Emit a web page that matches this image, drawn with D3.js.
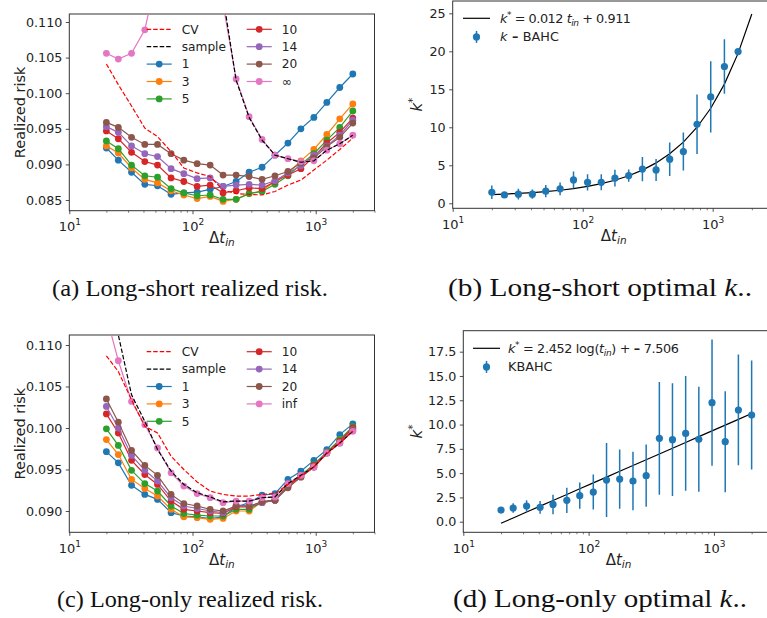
<!DOCTYPE html>
<html>
<head>
<meta charset="utf-8">
<script src="https://cdn.jsdelivr.net/npm/d3@7"></script>
<style>
  body { margin: 0; background: #fff; }
  svg { display: block; }
</style>
</head>
<body>
<div id="container"></div>
<script>
const WIDTH = 767,
  HEIGHT = 618;

// x values (input window length) shared by every panel
const tIn = [20, 25, 32, 41, 52, 67, 85, 109, 139, 177, 226, 288, 367, 467, 595, 758, 966, 1231, 1568, 2000];
const xDomain = [10, 3000];
const xMajor = [10, 100, 1000];
const xExp = ["1", "2", "3"];
const xMinor = [20, 30, 40, 50, 60, 70, 80, 90, 200, 300, 400, 500, 600, 700, 800, 900, 2000, 3000];

const kColors = ["#1f77b4", "#ff7f0e", "#2ca02c", "#d62728", "#9467bd", "#8c564b", "#e377c2"];

// (a) long-short realized risk
const lsLabels = ["1", "3", "5", "10", "14", "20", "∞"];
const lsCV = [0.1041, 0.1012, 0.0982, 0.0951, 0.0939, 0.0918, 0.0895, 0.0888, 0.0883, 0.0864, 0.0859, 0.0858, 0.0857, 0.0862, 0.0871, 0.0878, 0.0892, 0.0906, 0.0921, 0.0937];
const lsSample = [0.160, 0.155, 0.150, 0.145, 0.140, 0.135, 0.130, 0.125, 0.120, 0.1135, 0.1018, 0.0966, 0.0934, 0.0913, 0.0908, 0.0903, 0.0905, 0.0920, 0.0929, 0.0941];
const lsK1 = [0.0923, 0.0906, 0.0889, 0.0872, 0.0870, 0.0858, 0.0860, 0.0861, 0.0865, 0.0869, 0.0876, 0.0889, 0.0896, 0.0913, 0.0930, 0.0950, 0.0966, 0.0987, 0.1008, 0.1027];
const lsK3 = [0.0926, 0.0916, 0.0895, 0.0879, 0.0874, 0.0863, 0.0857, 0.0852, 0.0855, 0.0848, 0.0851, 0.0859, 0.0863, 0.0876, 0.0888, 0.0905, 0.0921, 0.0942, 0.0964, 0.0985];
const lsK5 = [0.0933, 0.0922, 0.0899, 0.0884, 0.0882, 0.0866, 0.0860, 0.0856, 0.0857, 0.0851, 0.0851, 0.0859, 0.0862, 0.0872, 0.0884, 0.0900, 0.0915, 0.0934, 0.0952, 0.0975];
const lsK10 = [0.0947, 0.0936, 0.0917, 0.0904, 0.0899, 0.0881, 0.0876, 0.0869, 0.0871, 0.0860, 0.0863, 0.0867, 0.0866, 0.0876, 0.0885, 0.0894, 0.0911, 0.0930, 0.0945, 0.0965];
const lsK14 = [0.0953, 0.0945, 0.0926, 0.0915, 0.0911, 0.0894, 0.0887, 0.0880, 0.0881, 0.0869, 0.0871, 0.0872, 0.0871, 0.0877, 0.0888, 0.0898, 0.0913, 0.0926, 0.0941, 0.0962];
const lsK20 = [0.0959, 0.0952, 0.0938, 0.0928, 0.0928, 0.0915, 0.0906, 0.0901, 0.0899, 0.0885, 0.0885, 0.0883, 0.0879, 0.0884, 0.0890, 0.0902, 0.0909, 0.0925, 0.0938, 0.0958];
const lsKinf = [0.1056, 0.1048, 0.1056, 0.1089, 0.117, 0.122, 0.125, 0.124, 0.120, 0.1125, 0.1020, 0.0967, 0.0935, 0.0913, 0.0908, 0.0904, 0.0905, 0.0920, 0.0929, 0.0941];

// (b) long-short optimal k
const lsKOpt = [1.45, 1.1, 1.2, 1.2, 1.6, 1.9, 3.07, 2.76, 2.76, 3.3, 3.64, 4.5, 4.39, 5.8, 6.8, 10.4, 14.0, 18.0, 19.96];
const lsKErr = [0.9, 0.3, 0.7, 0.6, 0.8, 0.85, 1.1, 1.07, 1.05, 1.1, 0.8, 1.6, 1.45, 2.2, 2.5, 3.9, 4.7, 3.6, 0];
const lsFit = { slope: 0.012, intercept: 0.911 };

// (c) long-only realized risk
const loLabels = ["1", "3", "5", "10", "14", "20", "inf"];
const loCV = [0.1087, 0.1068, 0.1034, 0.1002, 0.0994, 0.0966, 0.0950, 0.0935, 0.0924, 0.0920, 0.0918, 0.0918, 0.0920, 0.0921, 0.0932, 0.0942, 0.0953, 0.0969, 0.0982, 0.0996];
const loSample = [0.118, 0.1112, 0.1040, 0.1008, 0.0974, 0.0948, 0.0932, 0.0922, 0.0917, 0.0911, 0.0912, 0.0912, 0.0916, 0.0917, 0.0933, 0.0943, 0.0953, 0.0970, 0.0982, 0.0996];
const loK1 = [0.09715, 0.0958, 0.0931, 0.0920, 0.0914, 0.0898, 0.0894, 0.0893, 0.0891, 0.0893, 0.0905, 0.0910, 0.0919, 0.0921, 0.0938, 0.0948, 0.0961, 0.0974, 0.0992, 0.1005];
const loK3 = [0.0986, 0.0968, 0.0938, 0.0927, 0.0918, 0.0902, 0.0893, 0.0892, 0.0890, 0.0891, 0.0900, 0.0900, 0.0911, 0.0913, 0.0931, 0.0943, 0.0955, 0.0971, 0.0986, 0.1000];
const loK5 = [0.0999, 0.0979, 0.0949, 0.0933, 0.0924, 0.0906, 0.0897, 0.0895, 0.0894, 0.0894, 0.0902, 0.0902, 0.0911, 0.0913, 0.0931, 0.0943, 0.0956, 0.0971, 0.0986, 0.1002];
const loK10 = [0.1017, 0.0994, 0.0961, 0.0944, 0.0932, 0.0912, 0.0902, 0.0900, 0.0898, 0.0897, 0.0905, 0.0905, 0.0910, 0.0913, 0.0930, 0.0941, 0.0955, 0.0970, 0.0984, 0.1000];
const loK14 = [0.1026, 0.1000, 0.0967, 0.0949, 0.0936, 0.0916, 0.0906, 0.0903, 0.0900, 0.0898, 0.0907, 0.0906, 0.0910, 0.0913, 0.0929, 0.0941, 0.0953, 0.0970, 0.0982, 0.0998];
const loK20 = [0.1035, 0.1007, 0.0973, 0.0955, 0.0943, 0.0920, 0.0909, 0.0906, 0.0902, 0.0900, 0.0906, 0.0906, 0.0911, 0.0913, 0.0928, 0.0941, 0.0953, 0.0970, 0.0982, 0.0997];
const loKinf = [0.1135, 0.1081, 0.1032, 0.1004, 0.0976, 0.0946, 0.0930, 0.0921, 0.0916, 0.0910, 0.0912, 0.0912, 0.0916, 0.0917, 0.0933, 0.0943, 0.0953, 0.0970, 0.0982, 0.0996];

// (d) long-only optimal k
const loKOpt = [1.2, 1.41, 1.61, 1.48, 1.78, 2.2, 2.68, 3.05, 4.29, 4.39, 4.19, 4.74, 8.58, 8.44, 9.09, 8.48, 12.25, 8.24, 11.5, 10.98];
const loKErr = [0.3, 0.5, 0.6, 0.65, 1.0, 1.3, 1.35, 1.8, 3.8, 3.05, 3.0, 3.2, 5.8, 5.8, 5.9, 5.4, 6.5, 5.2, 5.7, 5.6];
const loFit = { slope: 2.452, intercept: -7.506 };

const riskTicks = {
  a: [0.085, 0.090, 0.095, 0.100, 0.105, 0.110],
  c: [0.090, 0.095, 0.100, 0.105, 0.110]
};

const FONT = "DejaVu Sans";

const svg = d3.select("#container")
  .append("svg")
  .attr("width", WIDTH)
  .attr("height", HEIGHT)
  .style("font-family", FONT);

let clipId = 0;

function makeAxes(box, yDomain, yTicks, yFormat) {
  const x = d3.scaleLog().domain(xDomain).range([box.left, box.right]);
  const y = d3.scaleLinear().domain(yDomain).range([box.bottom, box.top]);

  const id = "clip" + (clipId++);
  svg.append("clipPath").attr("id", id)
    .append("rect")
    .attr("x", box.left).attr("y", box.top)
    .attr("width", box.right - box.left).attr("height", box.bottom - box.top);

  // minor x ticks
  svg.append("g")
    .attr("transform", `translate(0,${box.bottom})`)
    .call(d3.axisBottom(x).tickValues(xMinor).tickSize(2).tickFormat(""))
    .call(g => g.select(".domain").remove())
    .selectAll("line").attr("stroke", "#222").attr("stroke-width", 0.6);

  // major x ticks with 10^n labels
  const gx = svg.append("g")
    .attr("transform", `translate(0,${box.bottom})`)
    .call(d3.axisBottom(x).tickValues(xMajor).tickSize(3.5).tickPadding(4).tickFormat(""));
  gx.select(".domain").remove();
  gx.selectAll("line").attr("stroke", "#222").attr("stroke-width", 0.8);
  gx.selectAll(".tick text")
    .attr("font-size", 13).attr("font-family", FONT).attr("fill", "#222")
    .attr("dy", "1em")
    .each(function (d, i) {
      const t = d3.select(this);
      t.append("tspan").text("10");
      t.append("tspan").attr("font-size", 9).attr("dy", -6).text(xExp[i]);
    });

  const gy = svg.append("g")
    .attr("transform", `translate(${box.left},0)`)
    .call(d3.axisLeft(y).tickValues(yTicks).tickSize(3.5).tickPadding(3.5).tickFormat(yFormat));
  gy.select(".domain").remove();
  gy.selectAll("line").attr("stroke", "#222").attr("stroke-width", 0.8);
  gy.selectAll("text").attr("font-size", 12.7).attr("font-family", FONT).attr("fill", "#222");

  // frame
  svg.append("rect")
    .attr("x", box.left).attr("y", box.top)
    .attr("width", box.right - box.left).attr("height", box.bottom - box.top)
    .attr("fill", "none").attr("stroke", "#333").attr("stroke-width", 1);

  // x label: Δt_in
  const xl = svg.append("text")
    .attr("x", (box.left + box.right) / 2).attr("y", box.bottom + 32.5)
    .attr("text-anchor", "middle").attr("font-size", 15).attr("fill", "#222");
  xl.append("tspan").text("Δ");
  xl.append("tspan").attr("font-style", "italic").text("t");
  xl.append("tspan").attr("font-style", "italic").attr("font-size", 10.5).attr("dy", 3).text("in");

  const plot = svg.append("g").attr("clip-path", `url(#${id})`);
  return { x, y, plot };
}

function riskPanel(box, yDomain, yTicks, cv, sample, series, labels, legendTop) {
  const { x, y, plot } = makeAxes(box, yDomain, yTicks, d3.format(".3f"));

  const line = d3.line().x((d, i) => x(tIn[i])).y(d => y(d));

  series.forEach((vals, s) => {
    plot.append("path")
      .attr("d", line(vals))
      .attr("fill", "none").attr("stroke", kColors[s]).attr("stroke-width", 1.2);
    plot.selectAll(null)
      .data(vals)
      .join("circle")
      .attr("cx", (d, i) => x(tIn[i]))
      .attr("cy", d => y(d))
      .attr("r", 3.4)
      .attr("fill", kColors[s]);
  });
  plot.append("path").attr("d", line(sample))
    .attr("fill", "none").attr("stroke", "#000").attr("stroke-width", 1.2).attr("stroke-dasharray", "4.5,2");
  plot.append("path").attr("d", line(cv))
    .attr("fill", "none").attr("stroke", "#ff0000").attr("stroke-width", 1.2).attr("stroke-dasharray", "4.5,2");

  // y label
  svg.append("text")
    .attr("transform", `translate(24.5,${(box.top + box.bottom) / 2}) rotate(-90)`)
    .attr("text-anchor", "middle").attr("font-size", 14.5).attr("fill", "#222")
    .text("Realized risk");

  // legend
  const rowH = 17.4;
  const entries = [
    { label: "CV", color: "#ff0000", dash: true },
    { label: "sample", color: "#000", dash: true }
  ].concat(labels.map((l, i) => ({ label: l, color: kColors[i], marker: true })));
  const leg = svg.append("g");
  entries.forEach((e, i) => {
    const col = i < 5 ? 0 : 1;
    const row = i < 5 ? i : i - 5;
    const x0 = col === 0 ? 146.7 : 246.7;
    const yy = legendTop + row * rowH;
    leg.append("line")
      .attr("x1", x0).attr("x2", x0 + 25).attr("y1", yy).attr("y2", yy)
      .attr("stroke", e.color).attr("stroke-width", 1.2)
      .attr("stroke-dasharray", e.dash ? "4.5,2" : null);
    if (e.marker) {
      leg.append("circle").attr("cx", x0 + 12.5).attr("cy", yy).attr("r", 3.4).attr("fill", e.color);
    }
    leg.append("text")
      .attr("x", x0 + 35).attr("y", yy + 4.3)
      .attr("font-size", 12.2).attr("fill", "#222")
      .text(e.label);
  });
}

function kPanel(box, yDomain, yTicks, vals, errs, fitFn, labelX, legendTop, lineX, textX) {
  const { x, y, plot } = makeAxes(box, yDomain, yTicks, d3.format(yTicks[1] % 1 ? ".1f" : "d"));

  const fitLine = d3.line().x(d => x(d)).y(d => y(fitFn(d)));
  plot.append("path").attr("d", fitLine(tIn))
    .attr("fill", "none").attr("stroke", "#000").attr("stroke-width", 1.2);

  const pts = vals.map((v, i) => ({ t: tIn[i], v, e: errs[i] }));
  plot.selectAll(null).data(pts).join("line")
    .attr("x1", d => x(d.t)).attr("x2", d => x(d.t))
    .attr("y1", d => y(d.v - d.e)).attr("y2", d => y(d.v + d.e))
    .attr("stroke", "#1f77b4").attr("stroke-width", 1.5);
  plot.selectAll(null).data(pts).join("circle")
    .attr("cx", d => x(d.t)).attr("cy", d => y(d.v)).attr("r", 3.6)
    .attr("fill", "#1f77b4");

  // y label k*
  const yl = svg.append("text")
    .attr("transform", `translate(${labelX},${(box.top + box.bottom) / 2}) rotate(-90)`)
    .attr("text-anchor", "middle").attr("font-size", 15).attr("fill", "#222");
  yl.append("tspan").attr("font-style", "italic").text("k");
  yl.append("tspan").attr("font-size", 10.5).attr("dy", -6).text("*");

  const leg = svg.append("g");
  leg.append("line")
    .attr("x1", lineX).attr("x2", lineX + 27).attr("y1", legendTop).attr("y2", legendTop)
    .attr("stroke", "#000").attr("stroke-width", 1.2);
  const row2 = legendTop + 18.6;
  leg.append("line")
    .attr("x1", lineX + 13.5).attr("x2", lineX + 13.5).attr("y1", row2 - 6).attr("y2", row2 + 6)
    .attr("stroke", "#1f77b4").attr("stroke-width", 1.5);
  leg.append("circle").attr("cx", lineX + 13.5).attr("cy", row2).attr("r", 3.6).attr("fill", "#1f77b4");

  const t1 = leg.append("text").attr("x", textX).attr("y", legendTop + 4.3).attr("font-size", 12.8).attr("fill", "#222");
  const t2 = leg.append("text").attr("x", textX).attr("y", row2 + 4.3).attr("font-size", 12.8).attr("fill", "#222");
  return { t1, t2 };
}

function caption(cx, cy, width, size, letter, body, italicK) {
  const t = svg.append("text")
    .attr("x", cx).attr("y", cy)
    .attr("text-anchor", "middle")
    .attr("font-family", "Liberation Serif")
    .attr("font-size", size).attr("fill", "#111")
    .attr("textLength", width).attr("lengthAdjust", "spacingAndGlyphs");
  t.append("tspan").text(`(${letter}) ${body}`);
  if (italicK) {
    t.append("tspan").attr("font-style", "italic").text("k");
    t.append("tspan").text("..");
  }
}

// (a)
riskPanel({ left: 69.3, right: 374.5, top: 14, bottom: 210.7 }, [0.083497, 0.111124], riskTicks.a,
  lsCV, lsSample, [lsK1, lsK3, lsK5, lsK10, lsK14, lsK20, lsKinf], lsLabels, 29.3);

// (b)
const lb = kPanel({ left: 452.7, right: 774.7, top: 1, bottom: 208.3 }, [-0.66, 26.62], [0, 5, 10, 15, 20, 25],
  lsKOpt, lsKErr, t => lsFit.slope * t + lsFit.intercept, 421.5, 18.3, 463, 500);
lb.t1.attr("textLength", 131).attr("lengthAdjust", "spacing");
lb.t1.append("tspan").attr("font-style", "italic").text("k");
lb.t1.append("tspan").attr("font-size", 9).attr("dy", -5).text("*");
lb.t1.append("tspan").attr("dy", 5).text(` = ${lsFit.slope} `);
lb.t1.append("tspan").attr("font-style", "italic").text("t");
lb.t1.append("tspan").attr("font-style", "italic").attr("font-size", 9).attr("dy", 3).text("in");
lb.t1.append("tspan").attr("dy", -3).text(` + ${lsFit.intercept}`);
lb.t2.append("tspan").attr("font-style", "italic").text("k");
lb.t2.append("tspan").attr("font-weight", "bold").text(" – ");
lb.t2.append("tspan").text("BAHC");

// (c)
riskPanel({ left: 69.3, right: 374.5, top: 335, bottom: 532.3 }, [0.087434, 0.111205], riskTicks.c,
  loCV, loSample, [loK1, loK3, loK5, loK10, loK14, loK20, loKinf], loLabels, 351.7);

// (d)
const ld = kPanel({ left: 463.3, right: 773.7, top: 330.7, bottom: 532.3 }, [-1.09, 19.66], [0, 2.5, 5, 7.5, 10, 12.5, 15, 17.5],
  loKOpt, loKErr, t => loFit.slope * Math.log(t) + loFit.intercept, 422, 348.3, 473, 508);
ld.t1.attr("textLength", 171).attr("lengthAdjust", "spacing");
ld.t1.append("tspan").attr("font-style", "italic").text("k");
ld.t1.append("tspan").attr("font-size", 9).attr("dy", -5).text("*");
ld.t1.append("tspan").attr("dy", 5).text(` = ${loFit.slope} log(`);
ld.t1.append("tspan").attr("font-style", "italic").text("t");
ld.t1.append("tspan").attr("font-style", "italic").attr("font-size", 9).attr("dy", 3).text("in");
ld.t1.append("tspan").attr("dy", -3).text(") + ");
ld.t1.append("tspan").attr("font-weight", "bold").text("–");
ld.t1.append("tspan").text(` ${Math.abs(loFit.intercept)}`);
ld.t2.text("KBAHC");

// captions
caption(190, 296, 276, 24, "a", "Long-short realized risk.", false);
caption(600, 296, 304, 25, "b", "Long-short optimal ", true);
caption(190, 607, 266, 24, "c", "Long-only realized risk.", false);
caption(600, 607, 294, 25, "d", "Long-only optimal ", true);
</script>
</body>
</html>
